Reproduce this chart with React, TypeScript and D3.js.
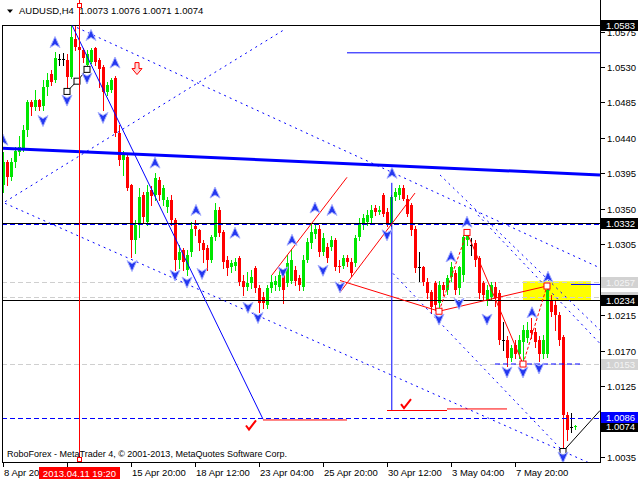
import * as d3 from 'd3'

// H4 bars: open, high, low, close
const bars: [number, number, number, number][] = [
  [1.0380, 1.0422, 1.0371, 1.0409], [1.0409, 1.0412, 1.0380, 1.0390], [1.0390, 1.0414, 1.0386, 1.0409],
  [1.0409, 1.0428, 1.0403, 1.0424], [1.0422, 1.0443, 1.0418, 1.0429], [1.0427, 1.0456, 1.0424, 1.0450],
  [1.0450, 1.0488, 1.0443, 1.0485], [1.0485, 1.0488, 1.0469, 1.0479], [1.0479, 1.0501, 1.0475, 1.0488],
  [1.0488, 1.0490, 1.0475, 1.0479], [1.0480, 1.0513, 1.0475, 1.0504], [1.0504, 1.0522, 1.0494, 1.0513],
  [1.0521, 1.0526, 1.0507, 1.0511], [1.0513, 1.0549, 1.0511, 1.0542], [1.0540, 1.0547, 1.0532, 1.0540],
  [1.0540, 1.0548, 1.0533, 1.0540], [1.0539, 1.0547, 1.0498, 1.0517], [1.0517, 1.0583, 1.0516, 1.0568],
  [1.0566, 1.0582, 1.0551, 1.0555], [1.0556, 1.0564, 1.0545, 1.0551], [1.0551, 1.0554, 1.0536, 1.0541],
  [1.0533, 1.0551, 1.0528, 1.0547], [1.0536, 1.0554, 1.0535, 1.0551], [1.0554, 1.0555, 1.0533, 1.0536],
  [1.0539, 1.0541, 1.0504, 1.0528], [1.0530, 1.0532, 1.0475, 1.0498], [1.0498, 1.0511, 1.0494, 1.0507],
  [1.0501, 1.0516, 1.0498, 1.0513], [1.0516, 1.0518, 1.0443, 1.0446], [1.0446, 1.0456, 1.0405, 1.0412],
  [1.0412, 1.0424, 1.0393, 1.0421], [1.0416, 1.0418, 1.0374, 1.0377], [1.0380, 1.0382, 1.0289, 1.0310],
  [1.0310, 1.0336, 1.0294, 1.0329], [1.0332, 1.0377, 1.0314, 1.0365], [1.0367, 1.0371, 1.0333, 1.0339],
  [1.0333, 1.0380, 1.0329, 1.0371], [1.0374, 1.0379, 1.0355, 1.0366], [1.0367, 1.0396, 1.0361, 1.0389],
  [1.0386, 1.0391, 1.0361, 1.0367], [1.0361, 1.0380, 1.0355, 1.0376], [1.0352, 1.0365, 1.0346, 1.0361],
  [1.0361, 1.0367, 1.0329, 1.0336], [1.0336, 1.0338, 1.0272, 1.0285], [1.0285, 1.0304, 1.0275, 1.0295],
  [1.0298, 1.0300, 1.0272, 1.0282], [1.0272, 1.0298, 1.0266, 1.0291], [1.0295, 1.0333, 1.0290, 1.0325],
  [1.0328, 1.0336, 1.0317, 1.0325], [1.0323, 1.0325, 1.0298, 1.0306], [1.0306, 1.0310, 1.0282, 1.0298],
  [1.0300, 1.0304, 1.0272, 1.0285], [1.0285, 1.0317, 1.0282, 1.0314], [1.0314, 1.0357, 1.0310, 1.0348],
  [1.0348, 1.0352, 1.0315, 1.0319], [1.0320, 1.0323, 1.0275, 1.0282], [1.0285, 1.0290, 1.0266, 1.0275],
  [1.0276, 1.0285, 1.0270, 1.0281], [1.0278, 1.0287, 1.0272, 1.0282], [1.0287, 1.0290, 1.0253, 1.0257],
  [1.0259, 1.0266, 1.0240, 1.0251], [1.0251, 1.0270, 1.0247, 1.0256], [1.0256, 1.0272, 1.0249, 1.0263],
  [1.0275, 1.0277, 1.0244, 1.0249], [1.0249, 1.0253, 1.0219, 1.0230], [1.0238, 1.0244, 1.0224, 1.0230],
  [1.0228, 1.0253, 1.0224, 1.0249], [1.0249, 1.0266, 1.0244, 1.0257], [1.0253, 1.0265, 1.0247, 1.0259],
  [1.0251, 1.0272, 1.0247, 1.0266], [1.0266, 1.0272, 1.0230, 1.0247], [1.0256, 1.0291, 1.0252, 1.0281],
  [1.0259, 1.0298, 1.0256, 1.0285], [1.0272, 1.0278, 1.0253, 1.0259], [1.0262, 1.0266, 1.0247, 1.0253],
  [1.0251, 1.0291, 1.0247, 1.0285], [1.0285, 1.0313, 1.0282, 1.0308], [1.0306, 1.0332, 1.0300, 1.0320],
  [1.0318, 1.0329, 1.0313, 1.0325], [1.0325, 1.0329, 1.0290, 1.0295], [1.0295, 1.0319, 1.0291, 1.0313],
  [1.0301, 1.0306, 1.0282, 1.0287], [1.0301, 1.0315, 1.0298, 1.0310], [1.0310, 1.0313, 1.0272, 1.0276],
  [1.0278, 1.0285, 1.0270, 1.0276], [1.0278, 1.0291, 1.0275, 1.0287], [1.0287, 1.0291, 1.0277, 1.0282],
  [1.0282, 1.0287, 1.0265, 1.0268], [1.0281, 1.0317, 1.0277, 1.0313], [1.0314, 1.0338, 1.0310, 1.0332],
  [1.0329, 1.0344, 1.0325, 1.0338], [1.0333, 1.0348, 1.0329, 1.0342], [1.0338, 1.0355, 1.0333, 1.0348],
  [1.0351, 1.0355, 1.0342, 1.0346], [1.0346, 1.0353, 1.0343, 1.0348], [1.0367, 1.0370, 1.0341, 1.0344],
  [1.0346, 1.0351, 1.0328, 1.0332], [1.0332, 1.0367, 1.0328, 1.0365], [1.0365, 1.0376, 1.0361, 1.0371],
  [1.0367, 1.0380, 1.0363, 1.0376], [1.0377, 1.0380, 1.0361, 1.0363], [1.0363, 1.0367, 1.0341, 1.0344],
  [1.0355, 1.0357, 1.0317, 1.0323], [1.0325, 1.0328, 1.0270, 1.0275], [1.0276, 1.0295, 1.0259, 1.0276],
  [1.0276, 1.0278, 1.0253, 1.0257], [1.0257, 1.0262, 1.0237, 1.0243], [1.0244, 1.0247, 1.0218, 1.0225],
  [1.0256, 1.0259, 1.0221, 1.0228], [1.0230, 1.0259, 1.0219, 1.0253], [1.0253, 1.0257, 1.0240, 1.0247],
  [1.0247, 1.0266, 1.0242, 1.0262], [1.0263, 1.0282, 1.0259, 1.0276], [1.0268, 1.0272, 1.0242, 1.0247],
  [1.0249, 1.0278, 1.0242, 1.0276], [1.0266, 1.0317, 1.0259, 1.0314], [1.0310, 1.0323, 1.0304, 1.0315],
  [1.0304, 1.0313, 1.0291, 1.0304], [1.0306, 1.0310, 1.0278, 1.0285], [1.0287, 1.0290, 1.0237, 1.0243],
  [1.0256, 1.0259, 1.0234, 1.0240], [1.0234, 1.0253, 1.0228, 1.0247], [1.0238, 1.0257, 1.0234, 1.0253],
  [1.0251, 1.0257, 1.0227, 1.0237], [1.0243, 1.0247, 1.0179, 1.0183], [1.0183, 1.0206, 1.0171, 1.0183],
  [1.0183, 1.0188, 1.0151, 1.0161], [1.0161, 1.0177, 1.0157, 1.0173], [1.0177, 1.0183, 1.0161, 1.0166],
  [1.0166, 1.0190, 1.0161, 1.0183], [1.0181, 1.0203, 1.0151, 1.0196], [1.0186, 1.0206, 1.0181, 1.0196],
  [1.0196, 1.0211, 1.0186, 1.0192], [1.0194, 1.0199, 1.0175, 1.0181], [1.0183, 1.0188, 1.0157, 1.0166],
  [1.0166, 1.0190, 1.0161, 1.0183], [1.0166, 1.0253, 1.0162, 1.0247], [1.0234, 1.0240, 1.0214, 1.0219],
  [1.0228, 1.0234, 1.0196, 1.0215], [1.0215, 1.0219, 1.0177, 1.0183], [1.0187, 1.0190, 1.0044, 1.0088],
  [1.0088, 1.0092, 1.0056, 1.0069], [1.0073, 1.0091, 1.0067, 1.0073], [1.0073, 1.0076, 1.0071, 1.0074],
]

// visible axis labels (1.0260 and 1.0080 sit under the price tags)
const priceTicks = [1.0575, 1.0530, 1.0485, 1.0440, 1.0395, 1.0350, 1.0305, 1.0215, 1.0170, 1.0125, 1.0035]
const timeTicks = [0, 16, 32, 48, 64, 80, 96, 112, 128]
const timeLabels = ['8 Apr 2013', '', '15 Apr 20:00', '18 Apr 12:00', '23 Apr 04:00', '25 Apr 20:00', '30 Apr 12:00', '3 May 04:00', '7 May 20:00']
const cursorBar = 19
const cursorLabel = '2013.04.11 19:20'

// horizontal levels
const blackLevels = [1.0583, 1.0332, 1.0234]
const blueDashLevels = [1.0332, 1.0086]
const grayDashLevels = [1.0257, 1.0238, 1.0153]
const blackTags = [1.0583, 1.0332, 1.0234, 1.0074]
const grayTags = [1.0257, 1.0153]
const hiddenGrayTags = [1.0238]
const blueTags = [1.0086]

// drawing objects, points as [bar, price]
type Pt = [number, number]
const thickBlue: Pt[] = [[-0.25, 1.0427], [149.25, 1.0393]]
const blueSolid: Pt[][] = [
  [[17.25, 1.0583], [65, 1.0083]],
  [[97.2, 1.0383], [97.2, 1.0094]],
  [[86, 1.0548], [149.25, 1.0548]],
  [[142, 1.0254], [149.25, 1.0254]],
]
const blueDashSegs: Pt[][] = [[[123, 1.0153], [145, 1.0153]]]
const blueDotted: Pt[][] = [
  [[18.5, 1.0580], [149.25, 1.0275]],
  [[0.5, 1.0357], [146.75, 1.0027]],
  [[-0.75, 1.0355], [70.5, 1.0578]],
  [[109.25, 1.0393], [149.25, 1.0196]],
  [[118.75, 1.0342], [149.25, 1.0179]],
  [[97.5, 1.0268], [141, 1.0037]],
]
const redSolid: Pt[][] = [
  [[67.25, 1.0266], [86, 1.0390]],
  [[84.25, 1.0244], [103, 1.0370]],
  [[84.25, 1.0259], [109, 1.0220], [136, 1.0252]],
  [[116, 1.0320], [130, 1.0153]],
  [[65, 1.0082], [86, 1.0082]],
  [[96, 1.0094], [111, 1.0094]],
  [[111, 1.0096], [126, 1.0096]],
]
const redDashed: Pt[][] = [
  [[109, 1.0220], [116, 1.0320]],
  [[130, 1.0153], [136, 1.0252]],
]
const redPivots: Pt[] = [[109, 1.0220], [116, 1.0320], [130, 1.0153], [136, 1.0252]]
const blackPath: Pt[] = [[16, 1.0499], [18.5, 1.0512], [21, 1.0527]]
const blackTail: Pt[] = [[140, 1.0042], [149.25, 1.0094]]
const checkMarks: Pt[] = [[100.75, 1.0102], [62, 1.0075]]
const sellArrow: Pt = [33.5, 1.0528]
const yellowZone = { from: 130, to: 147, top: 1.0258, bottom: 1.0234 }

const upFractals: Pt[] = [
  [0, 1.0437], [13, 1.0561], [22, 1.0570], [28, 1.0535], [38, 1.0408], [48.25, 1.0348], [53, 1.0370],
  [58, 1.0319], [72.25, 1.0310], [78, 1.0351], [82.25, 1.0348], [97.25, 1.0395], [112, 1.0289],
  [116, 1.0333], [132.25, 1.0218], [136.25, 1.0263],
]
const downFractals: Pt[] = [
  [10, 1.0462], [16, 1.0488], [21, 1.0516], [25, 1.0466], [32.25, 1.0278], [43, 1.0266], [46, 1.0257],
  [49.75, 1.0268], [61.25, 1.0225], [63.75, 1.0212], [70, 1.0270], [80, 1.0272], [84.25, 1.0251],
  [96, 1.0317], [109, 1.0210], [114, 1.0230], [121, 1.0210], [126, 1.0143], [130, 1.0143],
  [134, 1.0148], [140, 1.0035],
]

const FONT = "'Liberation Sans', Arial, sans-serif"
const GREEN = '#00e600'
const RED = '#ff0000'
const BLUE = '#0000ff'

export default function App() {
  const x = d3.scaleLinear().domain([0, 143]).range([3, 575])
  const y = d3.scaleLinear().domain([1.0035, 1.053]).range([457, 67])
  const line = d3.line<Pt>().x((d) => x(d[0])).y((d) => y(d[1]))
  const hy = (p: number) => Math.round(y(p)) + 0.5
  const left = 2
  const right = 600
  const bottom = 462
  const cx0 = x(cursorBar)

  const upArrow = 'M0,-6 L5,5 L0,2 L-5,5 Z'
  const downArrow = 'M0,6 L5,-5 L0,-2 L-5,-5 Z'

  const tag = (p: number, fill: string, color: string, key: string, label = true) => (
    <g key={key}>
      <rect x={601} y={Math.round(y(p)) - 5} width={37} height={11} fill={fill} />
      {label && (
        <text x={606} y={Math.round(y(p)) + 4} fill={color} fontSize={9.5}>
          {p.toFixed(4)}
        </text>
      )}
    </g>
  )

  return (
    <svg width={640} height={480} style={{ position: 'absolute', left: 0, top: 0, background: '#fff' }} fontFamily={FONT}>
      <defs>
        <clipPath id="plot">
          <rect x={left} y={0} width={right - left} height={bottom} />
        </clipPath>
        <clipPath id="firstLabel">
          <rect x={0} y={463} width={cx0 - 40} height={17} />
        </clipPath>
      </defs>

      <g clipPath="url(#plot)">
        <rect
          x={x(yellowZone.from)}
          y={y(yellowZone.top)}
          width={x(yellowZone.to) - x(yellowZone.from)}
          height={y(yellowZone.bottom) - y(yellowZone.top)}
          fill="#ffff00"
        />
        {grayDashLevels.map((p, i) => (
          <line key={'g' + i} x1={left} x2={right} y1={hy(p)} y2={hy(p)} stroke="#cfcfcf" strokeDasharray="5,3" />
        ))}

        {/* candles */}
        {bars.map(([o, h, l, c], i) => {
          const cx = Math.round(x(i))
          const doji = Math.abs(o - c) < 0.00005
          const col = doji ? '#000' : c > o ? GREEN : RED
          const top = Math.round(y(Math.max(o, c)))
          const bot = Math.round(y(Math.min(o, c)))
          return (
            <g key={'c' + i}>
              <line x1={cx + 0.5} x2={cx + 0.5} y1={Math.round(y(h))} y2={Math.round(y(l)) + 1} stroke={col} />
              {doji ? (
                <line x1={cx - 1} x2={cx + 2} y1={top + 0.5} y2={top + 0.5} stroke={col} />
              ) : (
                <rect x={cx - 1} y={top} width={3} height={Math.max(1, bot - top)} fill={col} />
              )}
            </g>
          )
        })}

        {blackLevels.map((p, i) => (
          <line key={'k' + i} x1={left} x2={right} y1={hy(p)} y2={hy(p)} stroke="#000" />
        ))}
        {blueDashLevels.map((p, i) => (
          <line key={'b' + i} x1={left} x2={right} y1={hy(p) + 1} y2={hy(p) + 1} stroke={BLUE} strokeDasharray="5,3" />
        ))}
        {blueDashSegs.map((s, i) => (
          <path key={'bs' + i} d={line(s) ?? ''} stroke={BLUE} fill="none" strokeDasharray="5,3" />
        ))}
        {blueDotted.map((s, i) => (
          <path key={'bd' + i} d={line(s) ?? ''} stroke={BLUE} fill="none" strokeDasharray="2,4" />
        ))}
        <path d={line(thickBlue) ?? ''} stroke={BLUE} strokeWidth={3} fill="none" />
        {blueSolid.map((s, i) => (
          <path key={'bl' + i} d={line(s) ?? ''} stroke={BLUE} fill="none" />
        ))}

        {redSolid.map((s, i) => (
          <path key={'r' + i} d={line(s) ?? ''} stroke={RED} fill="none" />
        ))}
        {redDashed.map((s, i) => (
          <path key={'rd' + i} d={line(s) ?? ''} stroke={RED} fill="none" strokeDasharray="3,2" />
        ))}
        {redPivots.map((d, i) => (
          <rect key={'rp' + i} x={x(d[0]) - 3} y={y(d[1]) - 3} width={6} height={6} fill="#fff" stroke={RED} />
        ))}

        <path d={line(blackPath) ?? ''} stroke="#000" fill="none" />
        {blackPath.map((d, i) => (
          <rect key={'bp' + i} x={x(d[0]) - 3} y={y(d[1]) - 3} width={6} height={6} fill="#fff" stroke="#000" />
        ))}
        <path d={line(blackTail) ?? ''} stroke="#000" fill="none" />
        <rect x={x(blackTail[0][0]) - 3} y={y(blackTail[0][1]) - 3} width={6} height={6} fill="#fff" stroke="#000" />

        {checkMarks.map((d, i) => (
          <path
            key={'ck' + i}
            transform={`translate(${x(d[0])},${y(d[1])})`}
            d="M-5,0 L-2,4 L5,-5"
            stroke={RED}
            strokeWidth={2}
            fill="none"
          />
        ))}
        <path
          transform={`translate(${x(sellArrow[0])},${y(sellArrow[1])})`}
          d="M-2,-6 H2 V0 H5 L0,6 L-5,0 H-2 Z"
          fill="#ffd8d8"
          stroke={RED}
        />

        {upFractals.map((d, i) => (
          <path key={'u' + i} transform={`translate(${x(d[0])},${y(d[1])})`} d={upArrow} fill="#2438f0" stroke="#a8b0ff" />
        ))}
        {downFractals.map((d, i) => (
          <path key={'d' + i} transform={`translate(${x(d[0])},${y(d[1])})`} d={downArrow} fill="#2438f0" stroke="#a8b0ff" />
        ))}

        {/* vertical cursor line */}
        <line x1={cx0 + 0.5} x2={cx0 + 0.5} y1={0} y2={bottom} stroke={RED} />
      </g>

      {/* frame */}
      <line x1={left + 0.5} x2={left + 0.5} y1={25} y2={bottom} stroke="#000" />
      <line x1={right + 0.5} x2={right + 0.5} y1={0} y2={bottom + 0.5} stroke="#000" />
      <line x1={left} x2={right + 1} y1={bottom + 0.5} y2={bottom + 0.5} stroke="#000" />
      <rect x={cx0 - 1.5} y={3.5} width={4} height={4} fill="#fff" stroke={RED} />
      <rect x={cx0 - 1.5} y={bottom - 4.5} width={4} height={4} fill="#fff" stroke={RED} />

      {/* header */}
      <path d="M7,9.5 L13,9.5 L10,13 Z" fill="#000" />
      <text x={19} y={14} fontSize={9.5} fill="#000">
        AUDUSD,H4{'\u00a0\u00a0'}1.0073 1.0076 1.0071 1.0074
      </text>
      <text x={7} y={457} fontSize={9} fill="#000">
        RoboForex - MetaTrader 4, © 2001-2013, MetaQuotes Software Corp.
      </text>

      {/* price axis */}
      {priceTicks.map((p) => (
        <g key={'pt' + p}>
          <line x1={601} x2={605} y1={hy(p)} y2={hy(p)} stroke="#000" />
          <text x={607} y={Math.round(y(p)) + 4} fontSize={9.5} fill="#000">
            {p.toFixed(4)}
          </text>
        </g>
      ))}
      {hiddenGrayTags.map((p) => tag(p, '#d2d2d2', '#f4f4f4', 'ht' + p, false))}
      {grayTags.map((p) => tag(p, '#d2d2d2', '#f4f4f4', 'gt' + p))}
      {blackTags.map((p) => tag(p, '#000', '#fff', 'kt' + p))}
      {blueTags.map((p) => tag(p, BLUE, '#fff', 'bt' + p))}

      {/* time axis */}
      {timeTicks.map((b, i) => (
        <g key={'tt' + b}>
          <line x1={x(b) + 0.5} x2={x(b) + 0.5} y1={bottom} y2={bottom + 5} stroke="#000" />
          {timeLabels[i] && (
            <text
              x={x(b) + 1}
              y={475.5}
              fontSize={9.5}
              fill="#000"
              clipPath={i === 0 ? 'url(#firstLabel)' : undefined}
            >
              {timeLabels[i]}
            </text>
          )}
        </g>
      ))}
      <rect x={cx0 - 40} y={467} width={81} height={12} fill={RED} />
      <text x={cx0 + 0.5} y={476.5} fontSize={9.5} fill="#fff" textAnchor="middle">
        {cursorLabel}
      </text>
    </svg>
  )
}
